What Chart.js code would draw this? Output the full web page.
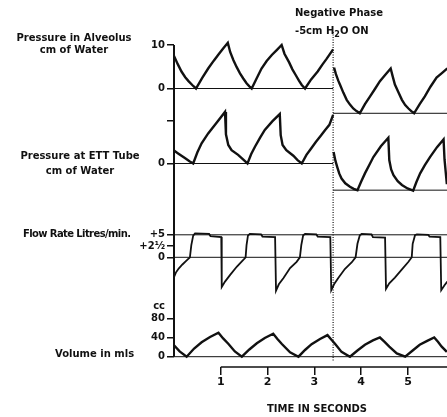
<!DOCTYPE html>
<html>
<head>
<meta charset="utf-8">
<script src="https://cdn.jsdelivr.net/npm/chart.js@4.4.1/dist/chart.umd.min.js"></script>
<style>
  body { margin: 0; background: #fff; }
  #wrap { position: relative; width: 447px; height: 417px; overflow: hidden; }
  #graf { position: absolute; left: 0; top: 0; }
  .lbl { position: absolute; font: bold 10px "DejaVu Sans", sans-serif; color: #111; white-space: nowrap; line-height: 12px; }
</style>
</head>
<body>
<div id="wrap">
  <canvas id="graf" width="447" height="417"></canvas>
  <div class="lbl" style="left:14px; top:32px; width:120px; text-align:center">Pressure in Alveolus<br>cm of Water</div>
  <div class="lbl" style="left:20px; top:148px; width:120px; text-align:center; line-height:15px">Pressure at ETT Tube<br>cm of Water</div>
  <div class="lbl" style="left:23px; top:228px; letter-spacing:-0.6px">Flow Rate Litres/min.</div>
  <div class="lbl" style="left:55px; top:348px">Volume in mls</div>
  <div class="lbl" style="left:295px; top:7px">Negative Phase</div>
  <div class="lbl" style="left:295px; top:25px">-5cm H<sub style="font-size:8px; vertical-align:-3px">2</sub>O ON</div>
  <div class="lbl" style="left:217px; top:403px; width:200px; text-align:center">TIME IN SECONDS</div>
</div>
<script>
// Tiempo (segundos)
const tiempoTicks = [1, 2, 3, 4, 5];
const tiempoLabels = ['1', '2', '3', '4', '5'];
const faseNegativaT = 3.40;

// Presion en alveolo (cm de agua)
const alvT = [0, 0.08, 0.16, 0.24, 0.31, 0.39, 0.47,
  0.60, 0.73, 0.85, 0.95, 1.05, 1.15,
  1.20, 1.27, 1.34, 1.41, 1.48, 1.55, 1.61, 1.66,
  1.77, 1.87, 1.98, 2.09, 2.20, 2.30,
  2.36, 2.46, 2.53, 2.60, 2.67, 2.73, 2.80,
  2.93, 3.07, 3.17, 3.26, 3.40, 3.40,
  3.42, 3.46, 3.51, 3.55, 3.62, 3.69, 3.76, 3.83, 3.90, 3.97,
  4.08, 4.19, 4.30, 4.40, 4.52, 4.63,
  4.67, 4.72, 4.80, 4.87, 4.94, 5.01, 5.07, 5.13,
  5.25, 5.36, 5.48, 5.61, 5.73, 5.84];
const alvP = [7.5, 5.6, 3.9, 2.6, 1.7, 0.8, 0,
  2.4, 4.6, 6.4, 7.8, 9.2, 10.5,
  8.4, 6.5, 4.9, 3.5, 2.3, 1.2, 0.5, 0,
  2.4, 4.6, 6.3, 7.7, 8.9, 10.0,
  8.0, 6.0, 4.4, 3.1, 1.8, 0.8, 0,
  2.1, 3.9, 5.5, 6.8, 9.0, null,
  4.8, 3.3, 1.8, 0.8, -1.0, -2.6, -3.7, -4.6, -5.2, -5.7,
  -3.6, -1.8, 0.0, 1.7, 3.2, 4.6,
  2.9, 0.9, -1.0, -2.6, -3.8, -4.6, -5.2, -5.7,
  -3.6, -1.8, 0.4, 2.5, 3.6, 4.6];
const alvBaseT = [0, 3.40, 3.40, 3.40, 5.84];
const alvBaseP = [0, 0, null, -5.7, -5.7];
const alvTicks = [0, 10];
const alvLabels = ['0', '10'];

// Presion en tubo ETT (cm de agua)
const ettT = [0, 0.08, 0.16, 0.24, 0.33, 0.41,
  0.50, 0.59, 0.73, 0.91, 1.09,
  1.11, 1.16, 1.23, 1.37, 1.47, 1.57,
  1.65, 1.73, 1.84, 1.94, 2.10, 2.26,
  2.28, 2.32, 2.40, 2.55, 2.64, 2.73,
  2.83, 2.93, 3.03, 3.14, 3.23, 3.32, 3.40, 3.40,
  3.41, 3.45, 3.49, 3.53, 3.58, 3.66, 3.76, 3.84, 3.92,
  4.00, 4.08, 4.17, 4.26, 4.42, 4.58,
  4.60, 4.64, 4.69, 4.78, 4.87, 4.99, 5.11,
  5.18, 5.26, 5.36, 5.47, 5.62, 5.76,
  5.78, 5.83];
const ettP = [3.0, 2.4, 1.8, 1.2, 0.5, 0,
  2.6, 4.7, 7.0, 9.5, 12.0,
  6.8, 4.3, 3.1, 2.0, 1.0, 0,
  2.2, 3.9, 6.0, 7.8, 9.8, 11.5,
  6.6, 4.3, 3.1, 1.8, 0.8, 0,
  2.0, 3.5, 5.0, 6.5, 7.8, 9.0, 11.3, null,
  2.7, 0.6, -0.9, -2.3, -3.5, -4.6, -5.4, -5.9, -6.2,
  -4.2, -2.3, -0.4, 1.5, 4.0, 6.0,
  0.8, -1.4, -2.7, -4.1, -5.0, -5.8, -6.3,
  -4.3, -2.3, -0.4, 1.5, 3.8, 5.6,
  1.0, -4.8];
const ettBaseT = [0, 3.40, 3.40, 3.40, 5.84];
const ettBaseP = [0, 0, null, -6.2, -6.2];
const ettTicks = [0, 10];
const ettLabels = ['0', ''];

// Flujo (litros/min)
const flujoT = [0, 0.04, 0.10, 0.18, 0.26, 0.34, 0.37, 0.41, 0.45, 0.75, 0.78, 1.01,
  1.02, 1.09, 1.20, 1.34, 1.48, 1.53, 1.55, 1.58, 1.62, 1.86, 1.89, 2.16,
  2.18, 2.24, 2.34, 2.48, 2.62, 2.69, 2.72, 2.76, 2.80, 3.04, 3.07, 3.34,
  3.36, 3.42, 3.51, 3.65, 3.80, 3.88, 3.92, 3.97, 4.01, 4.22, 4.25, 4.51,
  4.53, 4.60, 4.72, 4.87, 5.01, 5.08, 5.10, 5.15, 5.19, 5.43, 5.46, 5.69,
  5.71, 5.78, 5.84];
const flujoV = [-4.4, -3.4, -2.5, -1.6, -0.8, 0, 2.7, 4.8, 5.3, 5.2, 4.7, 4.5,
  -6.6, -5.4, -3.9, -2.1, -0.6, 0, 2.7, 4.8, 5.2, 5.1, 4.6, 4.5,
  -7.4, -6.0, -4.6, -2.4, -1.0, 0, 2.7, 4.9, 5.2, 5.1, 4.6, 4.5,
  -7.3, -6.0, -4.6, -2.6, -1.1, 0, 3.0, 4.9, 5.2, 5.1, 4.5, 4.4,
  -7.0, -5.8, -4.5, -2.7, -1.0, 0, 3.0, 4.9, 5.1, 5.0, 4.6, 4.5,
  -7.3, -6.2, -5.4];
const flujoRefT = [0, 5.84];
const flujoCinco = [5, 5];
const flujoCero = [0, 0];
const flujoTicks = [0, 2.5, 5];
const flujoLabels = ['0', '+2\u00bd', '+5'];

// Volumen (ml)
const volT = [0, 0.12, 0.27, 0.43, 0.59, 0.77, 0.95, 1.05, 1.16, 1.30, 1.45,
  1.61, 1.77, 1.94, 2.12, 2.21, 2.30, 2.48, 2.66,
  2.80, 2.94, 3.12, 3.28, 3.36, 3.44, 3.58, 3.76,
  3.92, 4.08, 4.25, 4.40, 4.50, 4.60, 4.76, 4.94,
  5.10, 5.25, 5.41, 5.56, 5.64, 5.72, 5.83];
const volV = [24, 11, 0, 17, 30, 41, 50, 38, 27, 11, 0,
  15, 28, 39, 48, 37, 27, 9, 0,
  14, 26, 37, 45, 36, 27, 10, 0,
  13, 25, 34, 40, 31, 21, 7, 0,
  13, 25, 33, 40, 31, 21, 10];
const volBaseT = [0, 5.84];
const volBaseV = [0, 0];
const volTicks = [0, 40, 80, 104];
const volLabels = ['0', '40', '80', 'cc'];

// Area del grafico en pixeles
const TOP = 40, BOTTOM = 367, LEFT = 174, PX_SEG = 46.8, ANCHO_EJE = 40;
const tinta = '#111';
const fuente = { family: '"DejaVu Sans", sans-serif', size: 10, weight: 'bold' };

function serie(t, v, eje, ancho) {
  return {
    data: t.map((x, i) => ({ x: x, y: v[i] })),
    yAxisID: eje,
    borderColor: tinta,
    borderWidth: ancho,
    pointRadius: 0,
    tension: 0,
    spanGaps: false,
    clip: false
  };
}

// ejes apilados en la misma columna; cada uno ocupa su franja
function ejeY(ceroY, pxUnidad, arriba, abajo, valores, etiquetas) {
  return {
    type: 'linear',
    position: 'left',
    stack: 'traza',
    stackWeight: abajo - arriba,
    bounds: 'data',
    min: -(abajo - ceroY) / pxUnidad,
    max: (ceroY - arriba) / pxUnidad,
    afterBuildTicks: s => { s.ticks = valores.map(v => ({ value: v })); },
    afterFit: s => { s.width = ANCHO_EJE; },
    ticks: {
      autoSkip: false,
      padding: 2,
      color: tinta,
      font: fuente,
      callback: (v, i) => etiquetas[i]
    },
    grid: {
      drawOnChartArea: false,
      tickLength: 7,
      lineWidth: 1.5,
      tickColor: etiquetas.map(e => e === 'cc' ? 'rgba(0,0,0,0)' : tinta)
    },
    border: { display: false }
  };
}

const trazos = {
  id: 'trazos',
  afterDatasetsDraw(chart) {
    const { ctx, chartArea, scales } = chart;
    const x = scales.x;
    const x0 = x.getPixelForValue(0);
    ctx.save();
    ctx.strokeStyle = tinta;
    ctx.lineWidth = 2;
    ctx.beginPath();
    ctx.moveTo(x0, scales.yAlv.getPixelForValue(alvTicks[1]));
    ctx.lineTo(x0, scales.yVol.getPixelForValue(0));
    ctx.stroke();
    ctx.lineWidth = 1.5;
    ctx.beginPath();
    ctx.moveTo(x.getPixelForValue(tiempoTicks[0]), chartArea.bottom);
    ctx.lineTo(chartArea.right, chartArea.bottom);
    ctx.stroke();
    const xf = x.getPixelForValue(faseNegativaT);
    ctx.lineWidth = 1.2;
    ctx.setLineDash([1, 1.5]);
    ctx.beginPath();
    ctx.moveTo(xf, scales.yAlv.getPixelForValue(13));
    ctx.lineTo(xf, scales.yVol.getPixelForValue(-10));
    ctx.stroke();
    ctx.restore();
  }
};

new Chart(document.getElementById('graf'), {
  type: 'line',
  data: {
    datasets: [
      serie(alvBaseT, alvBaseP, 'yAlv', 1),
      serie(alvT, alvP, 'yAlv', 2.4),
      serie(ettBaseT, ettBaseP, 'yEtt', 1),
      serie(ettT, ettP, 'yEtt', 2.4),
      serie(flujoRefT, flujoCinco, 'yFlujo', 1),
      serie(flujoRefT, flujoCero, 'yFlujo', 1),
      serie(flujoT, flujoV, 'yFlujo', 1.8),
      serie(volBaseT, volBaseV, 'yVol', 1),
      serie(volT, volV, 'yVol', 2.4)
    ]
  },
  options: {
    responsive: false,
    animation: false,
    layout: { padding: { left: LEFT - ANCHO_EJE, top: TOP, right: 0, bottom: 0 } },
    plugins: { legend: { display: false }, tooltip: { enabled: false } },
    scales: {
      x: {
        type: 'linear',
        min: 0,
        max: (447 - LEFT) / PX_SEG,
        afterBuildTicks: s => { s.ticks = tiempoTicks.map(v => ({ value: v })); },
        afterFit: s => { s.height = 417 - BOTTOM; },
        ticks: {
          autoSkip: false,
          maxRotation: 0,
          padding: 1,
          color: tinta,
          font: { family: fuente.family, size: 11, weight: 'bold' },
          callback: (v, i) => tiempoLabels[i]
        },
        grid: { drawOnChartArea: false, tickLength: 8, lineWidth: 1.5, tickColor: tinta },
        border: { display: false }
      },
      // el ultimo eje declarado queda arriba de la pila
      yVol: ejeY(356.7, 0.48, 300, 367, volTicks, volLabels),
      yFlujo: ejeY(257.3, 4.5, 210, 300, flujoTicks, flujoLabels),
      yEtt: ejeY(163.5, 4.3, 118, 210, ettTicks, ettLabels),
      yAlv: ejeY(88.5, 4.35, 40, 118, alvTicks, alvLabels)
    }
  },
  plugins: [trazos]
});
</script>
</body>
</html>
